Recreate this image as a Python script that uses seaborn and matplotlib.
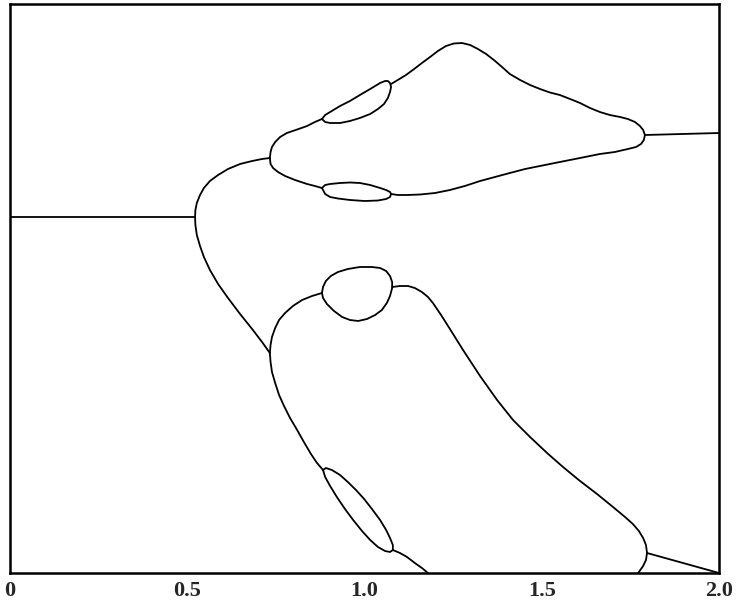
import numpy as np
import pandas as pd
import matplotlib
matplotlib.use("Agg")
import matplotlib.pyplot as plt
import seaborn as sns

# Bifurcation diagram: each branch is a list of (parameter, amplitude) samples.
trunk_x = [0.000, 0.522]
trunk_y = [3.56, 3.56]

upper_stem_x = [0.522, 0.523, 0.527, 0.536, 0.547, 0.564, 0.587, 0.615, 0.649, 0.683, 0.711, 0.733]
upper_stem_y = [3.56, 3.63, 3.70, 3.78, 3.85, 3.92, 3.98, 4.04, 4.09, 4.12, 4.14, 4.15]

top_upper_x = [0.733, 0.735, 0.739, 0.748, 0.762, 0.781, 0.806, 0.838, 0.860, 0.880]
top_upper_y = [4.15, 4.21, 4.26, 4.31, 4.36, 4.40, 4.43, 4.47, 4.51, 4.54]

top_loop_x = [0.880, 0.889, 0.903, 0.931, 0.959, 0.987, 1.016, 1.044, 1.058, 1.066, 1.072, 1.075,
              1.072, 1.066, 1.055, 1.038, 1.016, 0.987, 0.959, 0.931, 0.903, 0.889, 0.880]
top_loop_y = [4.54, 4.58, 4.61, 4.67, 4.72, 4.78, 4.84, 4.90, 4.92, 4.92, 4.90, 4.86,
              4.81, 4.75, 4.69, 4.64, 4.59, 4.55, 4.52, 4.50, 4.50, 4.51, 4.54]

top_arc_x = [1.075, 1.094, 1.117, 1.140, 1.162, 1.185, 1.207, 1.230, 1.252, 1.275, 1.298,
             1.320, 1.343, 1.365, 1.388, 1.410, 1.439, 1.467, 1.495, 1.523, 1.551, 1.580,
             1.608, 1.636, 1.664, 1.692, 1.721, 1.743, 1.763, 1.777, 1.786, 1.791]
top_arc_y = [4.89, 4.93, 4.98, 5.04, 5.10, 5.16, 5.22, 5.27, 5.295, 5.30, 5.28,
             5.24, 5.19, 5.13, 5.06, 4.99, 4.93, 4.88, 4.84, 4.805, 4.78, 4.74,
             4.70, 4.65, 4.61, 4.58, 4.56, 4.54, 4.51, 4.47, 4.43, 4.38]

top_lower_x = [0.733, 0.735, 0.742, 0.756, 0.776, 0.804, 0.838, 0.860, 0.880]
top_lower_y = [4.15, 4.09, 4.05, 4.01, 3.97, 3.93, 3.89, 3.87, 3.85]

side_loop_x = [0.880, 0.889, 0.903, 0.931, 0.959, 0.987, 1.016, 1.044, 1.061, 1.072,
               1.075, 1.072, 1.061, 1.038, 1.001, 0.959, 0.925, 0.903, 0.889, 0.880]
side_loop_y = [3.85, 3.88, 3.89, 3.90, 3.905, 3.90, 3.88, 3.85, 3.83, 3.81,
               3.79, 3.76, 3.74, 3.725, 3.72, 3.73, 3.745, 3.76, 3.79, 3.85]

side_arc_x = [1.075, 1.094, 1.120, 1.157, 1.199, 1.241, 1.283, 1.326, 1.368, 1.410, 1.453,
              1.495, 1.551, 1.608, 1.664, 1.706, 1.743, 1.766, 1.780, 1.788, 1.791]
side_arc_y = [3.79, 3.78, 3.78, 3.785, 3.80, 3.83, 3.87, 3.92, 3.96, 4.00, 4.04,
              4.07, 4.11, 4.15, 4.19, 4.21, 4.24, 4.26, 4.29, 4.33, 4.38]

upper_tail_x = [1.791, 2.000]
upper_tail_y = [4.38, 4.40]

lower_stem_x = [0.522, 0.523, 0.527, 0.536, 0.547, 0.564, 0.587, 0.615, 0.649, 0.683, 0.711, 0.733]
lower_stem_y = [3.56, 3.48, 3.38, 3.27, 3.16, 3.03, 2.89, 2.75, 2.59, 2.44, 2.31, 2.20]

mid_upper_x = [0.733, 0.735, 0.739, 0.748, 0.759, 0.776, 0.798, 0.824, 0.852, 0.880]
mid_upper_y = [2.20, 2.28, 2.36, 2.45, 2.53, 2.60, 2.67, 2.73, 2.77, 2.80]

mid_loop_x = [0.880, 0.883, 0.891, 0.905, 0.925, 0.953, 0.987, 1.021, 1.044, 1.061, 1.072, 1.078,
              1.078, 1.072, 1.063, 1.049, 1.030, 1.007, 0.982, 0.959, 0.937, 0.914, 0.894,
              0.883, 0.880]
mid_loop_y = [2.80, 2.86, 2.92, 2.97, 3.01, 3.04, 3.06, 3.06, 3.05, 3.02, 2.97, 2.91,
              2.85, 2.77, 2.70, 2.63, 2.58, 2.54, 2.52, 2.53, 2.56, 2.62, 2.69,
              2.75, 2.80]

mid_arc_x = [1.078, 1.100, 1.123, 1.142, 1.162, 1.179, 1.193, 1.216, 1.241, 1.278, 1.326,
             1.374, 1.419, 1.467, 1.515, 1.560, 1.608, 1.656, 1.701, 1.735, 1.757, 1.774,
             1.786, 1.794, 1.797, 1.794, 1.786, 1.774, 1.766]
mid_arc_y = [2.86, 2.87, 2.87, 2.85, 2.81, 2.76, 2.70, 2.58, 2.44, 2.23, 1.97,
             1.73, 1.53, 1.36, 1.20, 1.06, 0.92, 0.79, 0.66, 0.56, 0.49, 0.42,
             0.35, 0.28, 0.20, 0.13, 0.07, 0.01, -0.03]

lower_tail_x = [1.797, 2.000]
lower_tail_y = [0.20, 0.00]

low_stem_x = [0.733, 0.735, 0.739, 0.748, 0.759, 0.773, 0.790, 0.810, 0.829, 0.849, 0.866, 0.883]
low_stem_y = [2.20, 2.11, 2.01, 1.90, 1.78, 1.67, 1.55, 1.43, 1.31, 1.19, 1.10, 1.03]

low_loop_x = [0.883, 0.891, 0.908, 0.931, 0.953, 0.976, 0.999, 1.021, 1.044, 1.061, 1.072, 1.080,
              1.080, 1.072, 1.058, 1.038, 1.016, 0.993, 0.968, 0.945, 0.922, 0.903, 0.889, 0.883]
low_loop_y = [1.03, 1.05, 1.03, 0.98, 0.91, 0.83, 0.74, 0.64, 0.53, 0.43, 0.35, 0.28,
              0.23, 0.21, 0.22, 0.26, 0.33, 0.42, 0.53, 0.64, 0.76, 0.87, 0.96, 1.03]

low_tail_x = [1.080, 1.100, 1.120, 1.142, 1.162, 1.179, 1.188]
low_tail_y = [0.23, 0.20, 0.16, 0.10, 0.05, 0.00, -0.03]

tick_values = [0, 0.5, 1.0, 1.5, 2.0]
tick_labels = ["0", "0.5", "1.0", "1.5", "2.0"]

branches = {
    "trunk": (trunk_x, trunk_y),
    "upper_stem": (upper_stem_x, upper_stem_y),
    "top_upper": (top_upper_x, top_upper_y),
    "top_loop": (top_loop_x, top_loop_y),
    "top_arc": (top_arc_x, top_arc_y),
    "top_lower": (top_lower_x, top_lower_y),
    "side_loop": (side_loop_x, side_loop_y),
    "side_arc": (side_arc_x, side_arc_y),
    "upper_tail": (upper_tail_x, upper_tail_y),
    "lower_stem": (lower_stem_x, lower_stem_y),
    "mid_upper": (mid_upper_x, mid_upper_y),
    "mid_loop": (mid_loop_x, mid_loop_y),
    "mid_arc": (mid_arc_x, mid_arc_y),
    "lower_tail": (lower_tail_x, lower_tail_y),
    "low_stem": (low_stem_x, low_stem_y),
    "low_loop": (low_loop_x, low_loop_y),
    "low_tail": (low_tail_x, low_tail_y),
}

frames = []
for name, (bx, by) in branches.items():
    frames.append(pd.DataFrame({"x": bx, "y": by, "branch": name}))
df = pd.concat(frames, ignore_index=True)

sns.set_style("white")
plt.rcParams["font.family"] = ["Liberation Serif", "DejaVu Serif"]

fig = plt.figure(figsize=(7.36, 6.04), dpi=100)
ax = fig.add_axes([10 / 736, 31 / 604, 709 / 736, 569 / 604])

sns.lineplot(data=df, x="x", y="y", units="branch", estimator=None, sort=False,
             color="black", linewidth=1.3, ax=ax)

ax.set_xlim(0, 2.0)
ax.set_ylim(0, 5.69)
ax.set_xticks(tick_values)
ax.set_xticklabels(tick_labels, fontsize=16, fontweight="bold")
ax.set_yticks([])
ax.tick_params(axis="x", length=0, pad=6)
ax.set_xlabel("")
ax.set_ylabel("")
for side in ax.spines.values():
    side.set_visible(True)
    side.set_color("black")
    side.set_linewidth(1.8)

fig.savefig("out.png", dpi=100)
